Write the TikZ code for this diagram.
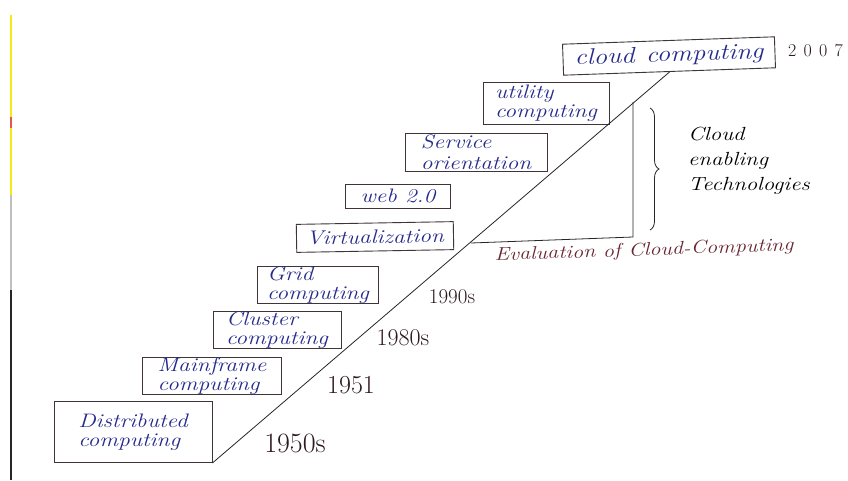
\documentclass[tikz,border=0pt]{standalone}
\usepackage{fontspec}
\newfontfamily\handfont[FakeStretch=1.2]{Latin Modern Roman}
\usetikzlibrary{decorations.pathreplacing}
\definecolor{inkblue}{RGB}{38,42,140}
\definecolor{framecol}{RGB}{62,52,58}
\definecolor{yearcol}{RGB}{45,25,30}
\definecolor{evalcol}{RGB}{105,38,50}
\definecolor{markyellow}{RGB}{245,235,20}
\definecolor{markred}{RGB}{225,90,70}
\begin{document}
\begin{tikzpicture}[x=1pt,y=-1pt,
  era/.style={draw=framecol, line width=0.9pt, text=inkblue, align=left,
    inner sep=0pt, font=\handfont\itshape\fontsize{19.5}{19}\selectfont},
  yearlbl/.style={text=yearcol, inner sep=0pt},
  notelbl/.style={inner sep=0pt, align=left, font=\handfont\itshape\fontsize{19}{25}\selectfont},
  guide/.style={draw=black!85, line width=0.8pt}]
\useasboundingbox (0,0) rectangle (848,480);
\fill[white] (0,0) rectangle (848,480);

% margin marks along the left edge
\draw[markyellow, line width=1.6pt] (11,15) -- (11,195);
\draw[markred, line width=1.6pt] (11,117) -- (11,128);
\draw[black!25, line width=1.2pt] (11,195) -- (11,290);
\draw[black!85, line width=1.4pt] (11,290) -- (11,480);

% the technology boxes, oldest at the bottom
\node[era, minimum width=158pt, minimum height=61pt] (dist) at (133,432) {Distributed\\computing};
\node[era, minimum width=139pt, minimum height=37pt] (main) at (212,376) {Mainframe\\computing};
\node[era, minimum width=128pt, minimum height=33pt] (clus) at (277,330) {Cluster\\computing};
\node[era, minimum width=121pt, minimum height=34pt] (grid) at (318,285) {Grid\\computing};
\node[era, minimum width=157pt, minimum height=28pt, rotate=1] (virt) at (375,237) {Virtualization};
\node[era, minimum width=105pt, minimum height=24pt] (web) at (398,196) {web 2.0};
\node[era, minimum width=142pt, minimum height=38pt,
      font=\handfont\itshape\fontsize{19.5}{20.5}\selectfont] (serv) at (476,152) {Service\\orientation};
\node[era, minimum width=126pt, minimum height=42pt] (util) at (546,103) {utility\\computing};
\node[era, minimum width=212pt, minimum height=31pt, rotate=2,
      font=\handfont\itshape\fontsize{22.5}{23}\selectfont] (cloud) at (669,56) {cloud\enspace computing};

% timeline
\draw[guide] (dist.south east) -- (cloud.south);

% years
\node[yearlbl, font=\fontsize{28}{28}\selectfont] (y1950) at (295,443) {1950s};
\node[yearlbl, font=\fontsize{26}{26}\selectfont] (y1951) at (351,385) {1951};
\node[yearlbl, font=\fontsize{24}{24}\selectfont] (y1980) at (403,338) {1980s};
\node[yearlbl, font=\fontsize{21}{21}\selectfont] (y1990) at (452,297) {1990s};
\node[yearlbl, font=\fontsize{18}{18}\selectfont, anchor=west] (y2007) at (788,51)
  {2\hspace{0.4em}0\hspace{0.4em}0\hspace{0.4em}7};

% bracket of the enabling technologies
\coordinate (vtop) at (633,102);
\coordinate (vbot) at (633,237);
\coordinate (hleft) at (471,243);
\draw[guide] (vtop) -- (vbot) -- (hleft);
\node[notelbl, text=evalcol, rotate=2, font=\handfont\itshape\fontsize{18.4}{18}\selectfont] (evol) at (644,251) {Evaluation of Cloud-Computing};

\draw[guide, decorate, decoration={brace, amplitude=9pt}] (650,108) -- (650,230);
\node[notelbl, anchor=north west] (enab) at (688,127) {Cloud\\enabling\\Technologies};
\end{tikzpicture}
\end{document}
